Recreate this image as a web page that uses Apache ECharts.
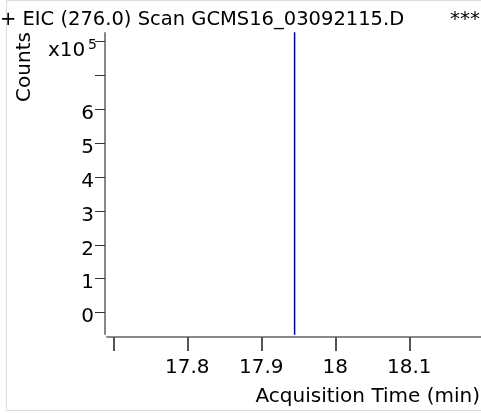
<!DOCTYPE html>
<html>
<head>
<meta charset="utf-8">
<script src="https://cdn.jsdelivr.net/npm/echarts@6/dist/echarts.min.js"></script>
<style>
html,body{margin:0;padding:0;background:#fff;}
#chart{width:481px;height:413px;}
</style>
</head>
<body>
<div id="chart"></div>
<script>
// Data (counts in units of 10^5)
const times = [17.945, 17.945];
const counts = [-1, 12];
const xTickValues = [17.7, 17.8, 17.9, 18.0, 18.1];
const xLabelValues = [17.8, 17.9, 18.0, 18.1];
const yTickValues = [0, 1, 2, 3, 4, 5, 6, 7, 8];
const yLabelValues = [0, 1, 2, 3, 4, 5, 6];
const titleText = '+ EIC (276.0) Scan GCMS16_03092115.D';
const flagText = '***';
const yName = 'Counts';
const xName = 'Acquisition Time (min)';

const FONT = '"DejaVu Sans", Verdana, sans-serif';
const chart = echarts.init(document.getElementById('chart'), null, {renderer: 'canvas'});
chart.setOption({
  animation: false,
  backgroundColor: '#fff',
  grid: {left: 107, right: 0, top: 33, bottom: 79},
  xAxis: {
    type: 'value',
    min: 17.6915, max: 18.1969,
    offset: 3,
    splitLine: {show: false},
    axisLine: {show: true, onZero: false, lineStyle: {color: '#888', width: 2}},
    axisTick: {show: true, inside: false, length: 14, customValues: xTickValues, lineStyle: {color: '#555', width: 2}},
    axisLabel: {customValues: xLabelValues, margin: 21, color: '#000', fontSize: 20, fontFamily: FONT,
      formatter: v => String(+(+v).toFixed(1))}
  },
  yAxis: {
    type: 'value',
    min: -0.628, max: 8.24,
    offset: 2,
    splitLine: {show: false},
    axisLine: {show: true, onZero: false, lineStyle: {color: '#888', width: 2}},
    axisTick: {show: true, length: 10, customValues: yTickValues, lineStyle: {color: '#333', width: 1}},
    axisLabel: {customValues: yLabelValues, margin: 11, verticalAlign: 'top', lineHeight: 9, color: '#000', fontSize: 20, fontFamily: FONT}
  },
  series: [{
    type: 'line',
    data: times.map((t, i) => [t, counts[i]]),
    showSymbol: false,
    clip: true,
    lineStyle: {color: '#0000a0', width: 1.5}
  }],
  graphic: [
    {type: 'rect', z: -10, shape: {x: 6.5, y: 0.5, width: 480, height: 410},
      style: {fill: 'none', stroke: '#dcdcdc', lineWidth: 1}},
    {type: 'text', x: 0, y: 20, style: {text: titleText, font: '19.5px ' + FONT, fill: '#000', align: 'left', verticalAlign: 'middle'}},
    {type: 'text', x: 480, y: 20, style: {text: flagText, font: '20px ' + FONT, fill: '#000', align: 'right', verticalAlign: 'middle'}},
    {type: 'text', x: 25, y: 67, rotation: Math.PI / 2, style: {text: yName, font: '20px ' + FONT, fill: '#000', align: 'center', verticalAlign: 'middle'}},
    {type: 'text', x: 48, y: 51, style: {text: 'x10', font: '20px ' + FONT, fill: '#000', align: 'left', verticalAlign: 'middle'}},
    {type: 'text', x: 88, y: 45, style: {text: '5', font: '14px ' + FONT, fill: '#000', align: 'left', verticalAlign: 'middle'}},
    {type: 'text', x: 480, y: 397, style: {text: xName, font: '20px ' + FONT, fill: '#000', align: 'right', verticalAlign: 'middle'}}
  ]
});
</script>
</body>
</html>
